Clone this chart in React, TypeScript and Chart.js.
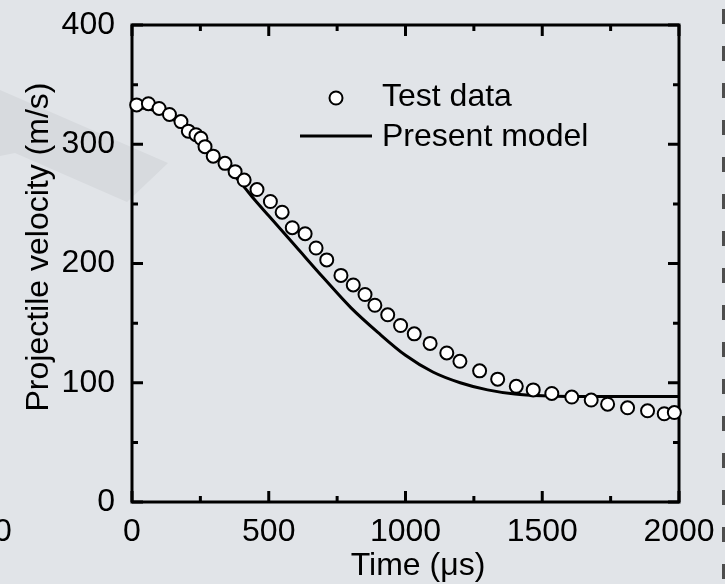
import React, { useEffect, useRef } from "react";
import { Chart, registerables } from "chart.js";

Chart.register(...registerables);

// Measured projectile velocity (time in µs, velocity in m/s)
const testTime = [17, 60, 99, 137, 179, 206, 234, 252, 267, 297, 340, 377, 410, 457, 506, 549, 586, 633, 673, 712, 764, 809, 852, 888, 935, 982, 1032, 1090, 1151, 1199, 1271, 1337, 1405, 1467, 1535, 1608, 1679, 1739, 1812, 1885, 1946, 1983];
const testVelocity = [333, 334, 330, 325, 319, 311, 308, 305, 298, 290, 284, 277, 270, 262, 252, 243, 230, 225, 213, 203, 190, 182, 174, 165, 157, 148, 141, 133, 125, 118, 110, 103, 97, 94, 91, 88, 85.5, 82, 79, 76.5, 74, 75];

// Model prediction
const modelTime = [0, 50, 100, 150, 200, 250, 300, 350, 400, 450, 500, 600, 700, 800, 900, 1000, 1100, 1200, 1300, 1400, 1500, 1600, 1800, 2000];
const modelVelocity = [331, 330, 327, 321, 313, 303, 293, 280, 267, 253, 240, 214, 188, 163, 142, 123, 109, 100, 94, 90.5, 89, 88.5, 88.5, 88.5];

const xMajorTicks = [0, 500, 1000, 1500, 2000];
const xMinorTicks = [250, 750, 1250, 1750];
const yMajorTicks = [0, 100, 200, 300, 400];
const yMinorTicks = [50, 150, 250, 350];

const xTitle = "Time (\u03bcs)";
const yTitle = "Projectile velocity (m/s)";
const edgeLabel = "0";

const FONT = "'Liberation Sans', Arial, Helvetica, sans-serif";

const backdrop = {
  id: "backdrop",
  beforeDraw(chart: any) {
    const { ctx, width, height } = chart;
    ctx.save();
    ctx.fillStyle = "#e1e4e8";
    ctx.fillRect(0, 0, width, height);
    // faint chevron behind the plot
    ctx.fillStyle = "#d7dade";
    ctx.beginPath();
    ctx.moveTo(0, 90);
    ctx.lineTo(168, 163);
    ctx.lineTo(127, 202);
    ctx.lineTo(15, 153);
    ctx.lineTo(0, 156);
    ctx.closePath();
    ctx.fill();
    // dashed divider at the right edge
    ctx.strokeStyle = "#4d4d4d";
    ctx.lineWidth = 3;
    ctx.setLineDash([15, 22]);
    ctx.beginPath();
    ctx.moveTo(723.5, 9);
    ctx.lineTo(723.5, height);
    ctx.stroke();
    ctx.setLineDash([]);
    // neighbouring axis label cut by the left edge
    ctx.fillStyle = "#000";
    ctx.font = `32px ${FONT}`;
    ctx.textAlign = "center";
    ctx.textBaseline = "middle";
    ctx.fillText(edgeLabel, 3, 532);
    ctx.restore();
  },
};

const frame = {
  id: "frame",
  beforeDatasetsDraw(chart: any) {
    const { ctx, chartArea: a, scales } = chart;
    const xs = scales.x;
    const ys = scales.y;
    ctx.save();
    ctx.strokeStyle = "#000";
    ctx.lineWidth = 3;
    ctx.lineCap = "butt";
    ctx.strokeRect(a.left, a.top, a.right - a.left, a.bottom - a.top);
    const major = 11;
    const minor = 6;
    ctx.beginPath();
    const xt = (v: number, len: number) => {
      const px = xs.getPixelForValue(v);
      ctx.moveTo(px, a.bottom);
      ctx.lineTo(px, a.bottom - len);
      ctx.moveTo(px, a.top);
      ctx.lineTo(px, a.top + len);
    };
    const yt = (v: number, len: number) => {
      const py = ys.getPixelForValue(v);
      ctx.moveTo(a.left, py);
      ctx.lineTo(a.left + len, py);
      ctx.moveTo(a.right, py);
      ctx.lineTo(a.right - len, py);
    };
    xMajorTicks.forEach((v) => xt(v, major));
    xMinorTicks.forEach((v) => xt(v, minor));
    yMajorTicks.forEach((v) => yt(v, major));
    yMinorTicks.forEach((v) => yt(v, minor));
    ctx.stroke();
    ctx.restore();
  },
};

const annotations = {
  id: "annotations",
  afterDraw(chart: any) {
    const { ctx } = chart;
    ctx.save();
    ctx.fillStyle = "#000";
    ctx.font = `32px ${FONT}`;
    ctx.textBaseline = "middle";

    // axis titles
    ctx.textAlign = "center";
    ctx.fillText(xTitle, 418, 566);
    ctx.save();
    ctx.translate(39, 247);
    ctx.rotate(-Math.PI / 2);
    ctx.fillText(yTitle, 0, 0);
    ctx.restore();

    // legend
    const ds = chart.data.datasets;
    ctx.textAlign = "left";
    ctx.beginPath();
    ctx.arc(336, 98, 6.5, 0, Math.PI * 2);
    ctx.fillStyle = "#fff";
    ctx.fill();
    ctx.lineWidth = 2;
    ctx.strokeStyle = "#000";
    ctx.stroke();
    ctx.fillStyle = "#000";
    ctx.fillText(ds[0].label, 382, 97);

    ctx.beginPath();
    ctx.lineWidth = 3;
    ctx.moveTo(300, 136);
    ctx.lineTo(372, 136);
    ctx.stroke();
    ctx.fillText(ds[1].label, 382, 137);
    ctx.restore();
  },
};

export default function App() {
  const canvasRef = useRef<HTMLCanvasElement | null>(null);

  useEffect(() => {
    const canvas = canvasRef.current;
    if (!canvas) return;
    const chart = new Chart(canvas, {
      type: "scatter",
      data: {
        datasets: [
          {
            label: "Test data",
            data: testTime.map((t, i) => ({ x: t, y: testVelocity[i] })),
            showLine: false,
            pointRadius: 6.5,
            pointBackgroundColor: "#fff",
            pointBorderColor: "#000",
            pointBorderWidth: 2,
            clip: false,
            order: 0,
          },
          {
            label: "Present model",
            data: modelTime.map((t, i) => ({ x: t, y: modelVelocity[i] })),
            showLine: true,
            borderColor: "#000",
            borderWidth: 3,
            pointRadius: 0,
            cubicInterpolationMode: "monotone",
            clip: false,
            order: 1,
          },
        ],
      },
      options: {
        responsive: false,
        animation: false,
        devicePixelRatio: 1,
        layout: { autoPadding: false, padding: { top: 25, right: 46, left: 0, bottom: 0 } },
        plugins: {
          legend: { display: false },
          tooltip: { enabled: false },
        },
        scales: {
          x: {
            type: "linear",
            min: 0,
            max: 2000,
            grid: { display: false, drawTicks: false },
            border: { display: false },
            ticks: {
              stepSize: 500,
              color: "#000",
              padding: 11,
              maxRotation: 0,
              autoSkip: false,
              font: { family: FONT, size: 32 },
              callback: (v: any) => String(v),
            },
            afterFit: (s: any) => {
              s.height = 82;
              s.paddingLeft = 0;
              s.paddingRight = 0;
            },
          },
          y: {
            type: "linear",
            min: 0,
            max: 400,
            grid: { display: false, drawTicks: false },
            border: { display: false },
            ticks: {
              stepSize: 100,
              color: "#000",
              padding: 17,
              autoSkip: false,
              font: { family: FONT, size: 32 },
              callback: (v: any) => String(v),
            },
            afterFit: (s: any) => {
              s.width = 132;
              s.paddingTop = 0;
              s.paddingBottom = 0;
            },
          },
        },
      } as any,
      plugins: [backdrop, frame, annotations],
    });
    return () => chart.destroy();
  }, []);

  return (
    <div style={{ position: "fixed", left: 0, top: 0, width: 725, height: 584 }}>
      <canvas ref={canvasRef} width={725} height={584} />
    </div>
  );
}
